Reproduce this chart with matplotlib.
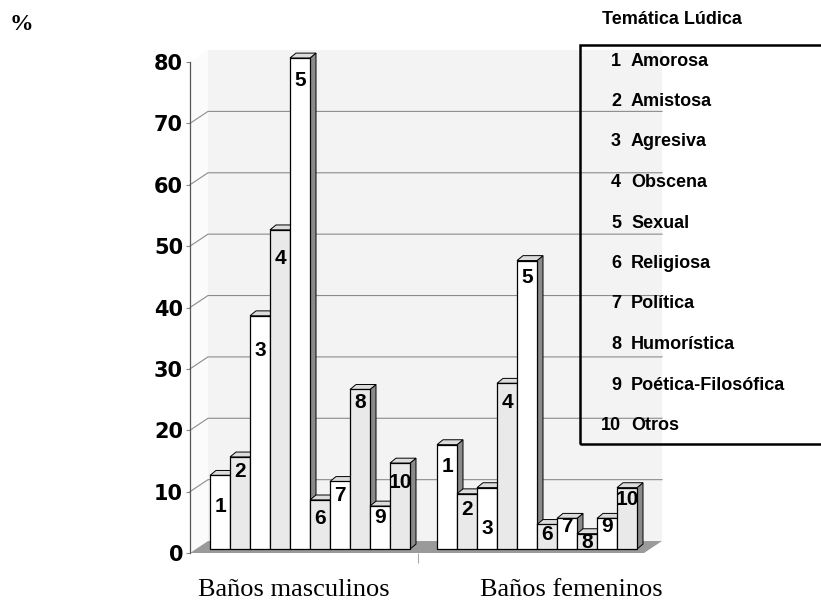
import numpy as np
import matplotlib.pyplot as plt
from matplotlib.patches import Polygon, Rectangle

# data
themes = ["Amorosa", "Amistosa", "Agresiva", "Obscena", "Sexual", "Religiosa",
          "Política", "Humorística", "Poética-Filosófica", "Otros"]
masculinos = [12, 15, 38, 52, 80, 8, 11, 26, 7, 14]
femeninos = [17, 9, 10, 27, 47, 4, 5, 2.5, 5, 10]
groups = ["Baños masculinos", "Baños femeninos"]
yticks = [0, 10, 20, 30, 40, 50, 60, 70, 80]

# layout of the fake 3D look (data units)
LIFT = 0.65          # bars stand a bit behind the front edge of the floor
BAR_DX, BAR_DY = 0.3, 0.8
WALL_DX, WALL_DY = 0.9, 1.95
XMIN, XMAX = -1.5, 22.1
label_y_m = [6.9, 12.7, 32.4, 47.4, 76.4, 5.0, 8.8, 23.8, 5.2, 10.9]
label_y_f = [13.4, 6.4, 3.3, 23.8, 44.3, 2.3, 3.6, 1.1, 3.6, 8.0]
front_colors = ["white", "#e9e9e9"] * 5

SANS = "Liberation Sans"
SERIF = "Liberation Serif"

W, H = 821, 608
fig = plt.figure(figsize=(W / 100, H / 100), dpi=100)
ax = fig.add_axes([190 / W, 55 / H, 472 / W, 491 / H])
ax.set_xlim(XMIN, XMAX)
ax.set_ylim(0, 80)

# walls and floor
ax.add_patch(Polygon([(XMIN, 0), (XMIN + WALL_DX, WALL_DY), (XMIN + WALL_DX, 82),
                      (XMIN, 80)], closed=True, facecolor="#fbfbfb",
                     edgecolor="none", zorder=0, clip_on=False))
ax.add_patch(Rectangle((XMIN + WALL_DX, WALL_DY), XMAX - XMIN - WALL_DX, 80,
                       facecolor="#f3f3f3", edgecolor="none", zorder=0, clip_on=False))
ax.add_patch(Polygon([(XMIN, 0), (XMAX - WALL_DX, 0), (XMAX, WALL_DY),
                      (XMIN + WALL_DX, WALL_DY)], closed=True, facecolor="#9a9a9a",
                     edgecolor="none", zorder=1, clip_on=False))
for v in yticks[1:-1]:
    ax.plot([XMIN, XMIN + WALL_DX, XMAX], [v, v + WALL_DY, v + WALL_DY],
            color="#8c8c8c", lw=0.8, zorder=0.5, clip_on=False)


def draw_group(xs, vals, labs):
    for i, (x, h) in enumerate(zip(xs, vals)):
        z = 3 + 0.1 * i
        l, r = x - 0.5, x + 0.5
        b, t = LIFT, LIFT + h
        side = Polygon([(r, b), (r + BAR_DX, b + BAR_DY), (r + BAR_DX, t + BAR_DY), (r, t)],
                       closed=True, facecolor="#8a8a8a", edgecolor="black", lw=0.7,
                       zorder=z, clip_on=False)
        top = Polygon([(l, t), (l + BAR_DX, t + BAR_DY), (r + BAR_DX, t + BAR_DY), (r, t)],
                      closed=True, facecolor="#dcdcdc", edgecolor="black", lw=0.7,
                      zorder=z, clip_on=False)
        ax.add_patch(side)
        ax.add_patch(top)
        bar = ax.bar(x, h, width=1, bottom=LIFT, color=front_colors[i],
                     edgecolor="black", lw=0.9)
        bar[0].set_zorder(z + 0.05)
        bar[0].set_clip_on(False)
        ax.text(x, labs[i] + LIFT, str(i + 1), ha="center", va="center",
                fontsize=15, fontweight="bold", family=SANS, zorder=10)


x_m = np.arange(10)
x_f = np.arange(10) + 11.35
draw_group(x_m, masculinos, label_y_m)
draw_group(x_f, femeninos, label_y_f)

for s in ["top", "right", "bottom"]:
    ax.spines[s].set_visible(False)
ax.spines["left"].set_color("#555555")
ax.spines["left"].set_linewidth(0.9)
ax.set_yticks(yticks)
ax.set_yticklabels([str(v) for v in yticks], fontsize=15, fontweight="bold",
                   family="DejaVu Sans")
ax.tick_params(axis="y", length=3, color="#888888", pad=2)
ax.set_xticks([9.9])
ax.set_xticklabels([""])
ax.tick_params(axis="x", length=7, color="#aaaaaa")

# axis unit and group names
fig.text(21 / W, 1 - 24 / H, "%", fontsize=17, fontweight="bold", family=SERIF,
         ha="center", va="center")
fig.text(198 / W, 1 - 596 / H, groups[0], fontsize=19, family=SERIF, ha="left", va="baseline")
fig.text(480 / W, 1 - 596 / H, groups[1], fontsize=19, family=SERIF, ha="left", va="baseline")

# legend box
fig.text(602 / W, 1 - 20 / H, "Temática Lúdica", fontsize=13, fontweight="bold",
         family=SANS, ha="left", va="center")
fig.patches.append(Rectangle((580 / W, 1 - 444 / H), 260 / W, 399 / H,
                             transform=fig.transFigure, fill=False,
                             edgecolor="black", lw=1.8))
for i, name in enumerate(themes):
    y = 1 - (61 + 40.5 * i) / H
    fig.text(621 / W, y, str(i + 1), fontsize=13, fontweight="bold", family=SANS,
             ha="right", va="center")
    fig.text(631 / W, y, name, fontsize=13, fontweight="bold", family=SANS,
             ha="left", va="center")

fig.savefig("out.png", dpi=100)
